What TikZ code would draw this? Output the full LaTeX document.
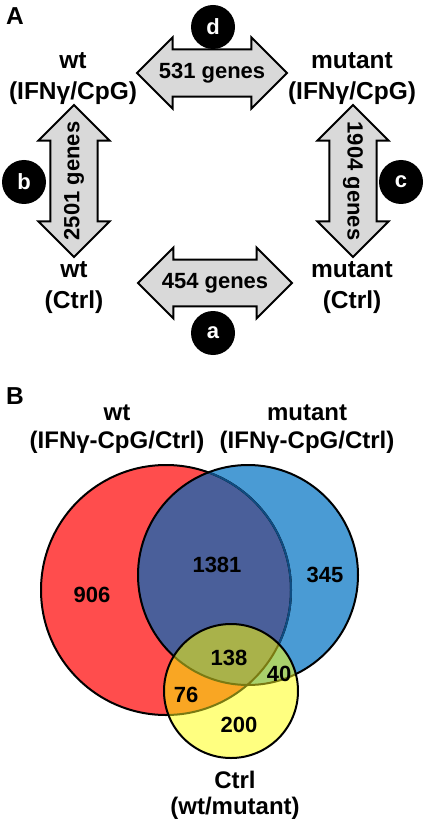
\documentclass[tikz,border=0pt]{standalone}
\usepackage{fontspec}
\setmainfont{Liberation Sans}
\usetikzlibrary{shapes.arrows}
\definecolor{arrgray}{HTML}{D9D9D9}
\definecolor{wtred}{HTML}{FF4D4D}
\definecolor{mutblue}{HTML}{4A9BD4}
\definecolor{bothblue}{HTML}{4A5F9A}
\definecolor{edgeblue}{HTML}{0F4C81}
\definecolor{ctlyellow}{HTML}{FFFF80}
\definecolor{wtorange}{HTML}{F9A623}
\definecolor{mutgreen}{HTML}{A9D16C}
\definecolor{allolive}{HTML}{A9B24A}
\definecolor{edgeolive}{HTML}{7A7A12}
\newcommand\rwt{125pt}
\newcommand\rmut{110pt}
\newcommand\rctl{67pt}
\begin{document}
\begin{tikzpicture}[x=1pt, y=-1pt,
  every node/.style={font=\bfseries\fontsize{24.5}{31}\selectfont, align=center, inner sep=0pt},
  darr/.style={double arrow, draw=black, line width=2pt, fill=arrgray,
    double arrow tip angle=90, double arrow head extend=12pt,
    inner xsep=0pt, inner ysep=12.5pt, minimum height=150pt,
    font=\bfseries\fontsize{22}{26}\selectfont},
  tag/.style={circle, fill=black, text=white, minimum size=44pt,
    font=\bfseries\fontsize{22}{26}\selectfont},
  num/.style={font=\bfseries\fontsize{22}{26}\selectfont}]
\useasboundingbox (0,0) rectangle (428,826);

% panel A
\node (pA) at (15,16) {A};
\node (wtI) at (73,79) {wt\\(IFNγ/CpG)};
\node (mutI) at (352,79) {mutant\\(IFNγ/CpG)};
\node (wtC) at (74,288) {wt\\(Ctrl)};
\node (mutC) at (352,288) {mutant\\(Ctrl)};

\node (arrD) at (212,73) [darr] {\makebox[0pt]{531 genes}};
\node (arrA) at (215,283) [darr, minimum height=154pt] {\makebox[0pt]{454 genes}};
\node (arrB) at (74,181) [darr, rotate=90, minimum height=152pt] {\makebox[0pt]{2501 genes}};
\node (arrC) at (353,181) [darr, rotate=-90, minimum height=152pt] {\makebox[0pt]{1904 genes}};

\node (tagD) at (213,27) [tag] {d};
\node (tagA) at (213,333) [tag] {a};
\node (tagB) at (24,182) [tag] {b};
\node (tagC) at (401,182) [tag] {c};

% panel B
\node (pB) at (15,396) {B};
\node (wtV) at (117,429) [font=\bfseries\fontsize{24}{28}\selectfont] {wt\\(IFNγ-CpG/Ctrl)};
\node (mutV) at (307,429) [font=\bfseries\fontsize{24}{28}\selectfont] {mutant\\(IFNγ-CpG/Ctrl)};

\coordinate (wtc) at (166,590);
\coordinate (mutc) at (248,575);
\coordinate (ctlc) at (231,691);

\fill[wtred] (wtc) circle[radius=\rwt];
\fill[mutblue] (mutc) circle[radius=\rmut];
\begin{scope}
  \clip (wtc) circle[radius=\rwt];
  \fill[bothblue] (mutc) circle[radius=\rmut];
\end{scope}
\draw[line width=2pt] (wtc) circle[radius=\rwt];
\begin{scope}
  \clip (mutc) circle[radius=\rmut];
  \draw[line width=2pt, edgeblue] (wtc) circle[radius=\rwt];
\end{scope}
\draw[line width=2pt] (mutc) circle[radius=\rmut];

\fill[ctlyellow] (ctlc) circle[radius=\rctl];
\begin{scope}
  \clip (ctlc) circle[radius=\rctl];
  \fill[wtorange] (wtc) circle[radius=\rwt];
  \fill[mutgreen] (mutc) circle[radius=\rmut];
  \clip (wtc) circle[radius=\rwt];
  \fill[allolive] (mutc) circle[radius=\rmut];
\end{scope}
\begin{scope}
  \clip (ctlc) circle[radius=\rctl];
  \draw[line width=2pt, edgeolive] (wtc) circle[radius=\rwt] (mutc) circle[radius=\rmut];
\end{scope}
\draw[line width=2pt] (ctlc) circle[radius=\rctl];

\node (n906) at (92,595) [num] {906};
\node (n1381) at (217,565) [num] {1381};
\node (n345) at (325,575) [num] {345};
\node (n138) at (229,658) [num] {138};
\node (n40) at (279,674) [num] {40};
\node (n76) at (186,695) [num] {76};
\node (n200) at (239,725) [num] {200};
\node (ctlV) at (235,795) [font=\bfseries\fontsize{24}{26}\selectfont] {Ctrl\\(wt/mutant)};
\end{tikzpicture}
\end{document}
